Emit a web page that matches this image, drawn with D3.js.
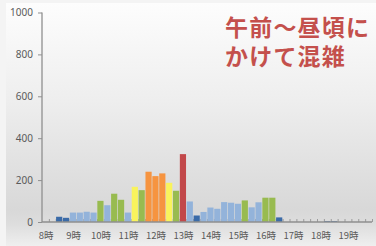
<!DOCTYPE html>
<html>
<head>
<meta charset="utf-8">
<script src="https://cdn.jsdelivr.net/npm/d3@7"></script>
<style>
  html, body { margin: 0; padding: 0; background: #f4f4f4; }
  svg { display: block; }
</style>
</head>
<body>
<svg id="chart" width="376" height="246"></svg>
<script>
// ---- data ----
const categories = [
  "8:00","8:15","8:30","8:45","9:00","9:15","9:30","9:45",
  "10:00","10:15","10:30","10:45","11:00","11:15","11:30","11:45",
  "12:00","12:15","12:30","12:45","13:00","13:15","13:30","13:45",
  "14:00","14:15","14:30","14:45","15:00","15:15","15:30","15:45",
  "16:00","16:15","16:30","16:45","17:00","17:15","17:30","17:45",
  "18:00","18:15","18:30","18:45","19:00","19:15","19:30","19:45"
];
const visitors = [
  0, 0, 25, 20, 45, 45, 49, 45,
  101, 80, 135, 106, 45, 168, 152, 240,
  219, 232, 187, 149, 324, 98, 31, 48,
  69, 63, 95, 92, 87, 103, 70, 94,
  116, 116, 22, 0, 0, 0, 0, 0,
  0, 4, 4, 0, 0, 0, 0, 0
];
const levels = [
  "low","low","low","low","mid","mid","mid","mid",
  "busy","mid","busy","busy","mid","high","busy","peak",
  "peak","peak","high","busy","max","mid","low","mid",
  "mid","mid","mid","mid","mid","busy","mid","mid",
  "busy","busy","low","low","low","low","low","low",
  "low","low","low","low","low","low","low","low"
];
const levelNames = ["low","mid","busy","high","peak","max"];
const levelColors = ["#3b6ba8","#93b3da","#98bb50","#f9f35c","#f69440","#c2484a"];
const hourLabels = ["8時","9時","10時","11時","12時","13時","14時","15時","16時","17時","18時","19時"];
const yTicks = [0, 200, 400, 600, 800, 1000];
const titleLines = ["午前～昼頃に", "かけて混雑"];

// ---- layout ----
const W = 376, H = 246;
const m = { left: 42, right: 4, top: 12.5, bottom: 24 };
const svg = d3.select("#chart");

// background
const defs = svg.append("defs");
const grad = defs.append("linearGradient").attr("id", "bg").attr("x1", 0).attr("y1", 0).attr("x2", 0).attr("y2", 1);
[[0, "#fdfdfd"], [0.4, "#eeeeee"], [0.85, "#d8d8d8"], [0.91, "#dddddd"], [1, "#efefef"]]
  .forEach(([o, c]) => grad.append("stop").attr("offset", o).attr("stop-color", c));
svg.append("rect").attr("x", 6).attr("y", 3).attr("width", W - 6).attr("height", H - 3).attr("fill", "url(#bg)");

const x = d3.scaleBand().domain(categories).range([m.left, W - m.right]).paddingInner(0.1).paddingOuter(0.05);
const xLin = d3.scaleLinear().domain([0, categories.length]).range([m.left, W - m.right]);
const y = d3.scaleLinear().domain([0, 1000]).range([H - m.bottom, m.top]);
const color = d3.scaleOrdinal().domain(levelNames).range(levelColors);

// x tick marks between categories
const xTickAxis = d3.axisBottom(xLin).tickValues(d3.range(1, categories.length + 1)).tickSize(-3).tickFormat("");
const gxt = svg.append("g").attr("transform", `translate(0,${y(0)})`).call(xTickAxis);
gxt.select(".domain").remove();
gxt.selectAll(".tick line").attr("stroke", "#8a8a8a").attr("stroke-width", 0.8);

// bars
svg.append("g").selectAll("rect").data(categories).join("rect")
  .attr("x", d => x(d))
  .attr("width", x.bandwidth())
  .attr("y", (d, i) => y(visitors[i]))
  .attr("height", (d, i) => y(0) - y(visitors[i]))
  .attr("fill", (d, i) => color(levels[i]));

// x axis line + hour labels
const hourCats = categories.filter((c, i) => i % 4 === 0);
const xAxis = d3.axisBottom(x).tickValues(hourCats).tickSize(0).tickPadding(10)
  .tickFormat(d => hourLabels[hourCats.indexOf(d)]);
const gx = svg.append("g").attr("transform", `translate(0,${y(0)})`).call(xAxis);
gx.select(".domain").attr("d", `M${m.left},0H${W - m.right}`).attr("stroke", "#8f8f8f").attr("stroke-width", 1.3);
gx.selectAll(".tick text").attr("fill", "#5a5a5a").style("font-family", "'Noto Sans CJK JP', 'Noto Sans', sans-serif").style("font-size", "9.5px");
gx.selectAll(".tick").attr("transform", d => `translate(${x(d) + x.bandwidth() / 2 + 0.6},0)`);

// y axis
const yAxis = d3.axisLeft(y).tickValues(yTicks).tickSize(4).tickPadding(5).tickFormat(d3.format("d"));
const gy = svg.append("g").attr("transform", `translate(${m.left},0)`).call(yAxis);
gy.select(".domain").attr("d", `M0,${y(1000)}V${y(0)}`).attr("stroke", "#8f8f8f").attr("stroke-width", 1.3);
gy.selectAll(".tick line").attr("stroke", "#8f8f8f");
gy.selectAll(".tick text").attr("fill", "#5a5a5a").style("font-family", "'Noto Sans', sans-serif").style("font-size", "10px");

// annotation
svg.append("g").selectAll("text").data(titleLines).join("text")
  .attr("x", 225)
  .attr("y", (d, i) => 36 + i * 29)
  .attr("fill", "#c4504c")
  .style("font-family", "'Noto Sans CJK JP', sans-serif")
  .style("font-weight", "bold")
  .style("font-size", "23px")
  .style("letter-spacing", "1.2px")
  .text(d => d);
</script>
</body>
</html>
